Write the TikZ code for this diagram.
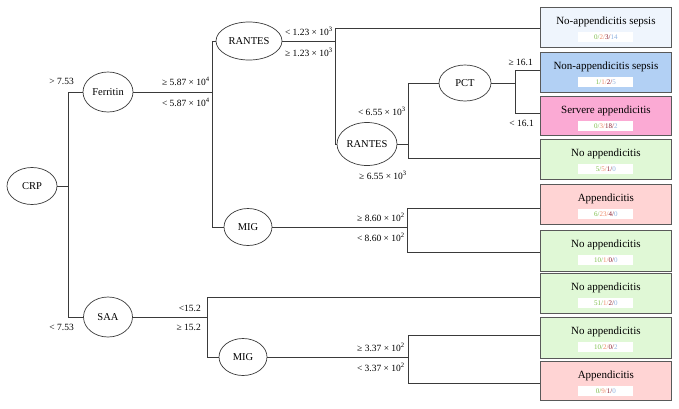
\documentclass[tikz,border=0pt]{standalone}
\usepackage{fontspec}
\setmainfont{Liberation Serif}
\usetikzlibrary{shapes.geometric,calc}
\definecolor{cg}{HTML}{7DBE4A}
\definecolor{co}{HTML}{F08C6A}
\definecolor{cr}{HTML}{8A1C2C}
\definecolor{cb}{HTML}{8FB2E0}
\definecolor{fa}{HTML}{EFF5FD}
\definecolor{fb}{HTML}{B2D0F4}
\definecolor{fp}{HTML}{FBAAD4}
\definecolor{fg}{HTML}{E0F8D6}
\definecolor{fr}{HTML}{FFD4D4}
\definecolor{ln}{HTML}{3A3A3A}
\newcommand{\nums}[4]{\textcolor{cg}{#1/}\textcolor{co}{#2/}\textcolor{cr}{#3/}\textcolor{cb}{#4}}
\tikzset{
  split/.style={ellipse,draw=ln,line width=0.7pt,inner sep=0pt,font=\fontsize{10.5}{12}\selectfont},
  leaf/.style={draw=black!65,line width=0.8pt,minimum width=131pt,inner sep=0pt,anchor=north west},
  ttl/.style={font=\fontsize{11}{12}\selectfont},
  cnt/.style={fill=white,minimum width=55pt,minimum height=10pt,inner sep=0pt,font=\fontsize{7}{8}\selectfont},
  lab/.style={anchor=east,inner sep=0pt,font=\fontsize{9.5}{10}\selectfont},
  conn/.style={draw=ln,line width=0.7pt},
}
\begin{document}
\begin{tikzpicture}[x=1pt,y=-1pt]
\useasboundingbox (0,0) rectangle (679,408);
% split nodes
\node[split,minimum width=50pt,minimum height=37pt] (crp) at (32,186) {CRP};
\node[split,minimum width=50pt,minimum height=40pt] (fer) at (108,92) {Ferritin};
\node[split,minimum width=49pt,minimum height=40pt] (saa) at (108,317) {SAA};
\node[split,minimum width=66pt,minimum height=38pt] (r1) at (249,41) {RANTES};
\node[split,minimum width=60pt,minimum height=43pt] (r2) at (367,144) {RANTES};
\node[split,minimum width=52pt,minimum height=36pt] (pct) at (465,83) {PCT};
\node[split,minimum width=48pt,minimum height=37pt] (m1) at (248,227) {MIG};
\node[split,minimum width=48pt,minimum height=37pt] (m2) at (243,357) {MIG};
% leaves
\newcommand{\leafbox}[6]{%
  \node[leaf,fill=#3,minimum height=#5pt] (#1) at (540,#4) {};
  \node[ttl] at ($(#1.north)+(0,14.5)$) {#2};
  \node[cnt] at ($(#1.north)+(0,30)$) {#6};
}
\leafbox{b1}{No-appendicitis sepsis}{fa}{7}{40}{\nums{0}{2}{3}{14}}
\leafbox{b2}{Non-appendicitis sepsis}{fb}{52}{40}{\nums{1}{1}{2}{5}}
\leafbox{b3}{Servere appendicitis}{fp}{96}{39}{\nums{0}{3}{18}{2}}
\leafbox{b4}{No appendicitis}{fg}{139}{40}{\nums{5}{5}{1}{0}}
\leafbox{b5}{Appendicitis}{fr}{184}{40}{\nums{6}{23}{4}{0}}
\leafbox{b6}{No appendicitis}{fg}{230}{41}{\nums{10}{1}{0}{0}}
\leafbox{b7}{No appendicitis}{fg}{273}{40}{\nums{51}{1}{2}{0}}
\leafbox{b8}{No appendicitis}{fg}{317}{41}{\nums{10}{2}{0}{2}}
\leafbox{b9}{Appendicitis}{fr}{361}{39}{\nums{0}{9}{1}{0}}
% junction coordinates
\coordinate (ja) at (68,92);   \coordinate (jb) at (68,317);
\coordinate (jc) at (212,41);  \coordinate (jd) at (212,227);
\coordinate (je) at (335,28);  \coordinate (jf) at (335,144);
\coordinate (jg) at (408,83);  \coordinate (jh) at (408,158);
\coordinate (ji) at (515,70);  \coordinate (jj) at (515,113);
\coordinate (jk) at (407,208); \coordinate (jl) at (407,252);
\coordinate (jm) at (207,297); \coordinate (jn) at (207,357);
\coordinate (jo) at (408,335); \coordinate (jp) at (408,383);
% connectors
\draw[conn] (crp.east) -- (crp.east -| ja);
\draw[conn] (fer.west) -- (ja) -- (jb) -- (saa.west);
\draw[conn] (fer.east) -- (fer.east -| jc);
\draw[conn] (r1.west) -- (jc) -- (jd) -- (m1.west);
\draw[conn] (r1.east) -- (r1.east -| je);
\draw[conn] (b1.west |- je) -- (je) -- (jf) -- (r2.west);
\draw[conn] (r2.east) -- (r2.east -| jg);
\draw[conn] (pct.west) -- (jg) -- (jh) -- (b4.west |- jh);
\draw[conn] (pct.east) -- (pct.east -| ji);
\draw[conn] (b2.west |- ji) -- (ji) -- (jj) -- (b3.west |- jj);
\draw[conn] (m1.east) -- (m1.east -| jk);
\draw[conn] (b5.west |- jk) -- (jk) -- (jl) -- (b6.west |- jl);
\draw[conn] (saa.east) -- (saa.east -| jm);
\draw[conn] (b7.west |- jm) -- (jm) -- (jn) -- (m2.west);
\draw[conn] (m2.east) -- (m2.east -| jo);
\draw[conn] (b8.west |- jo) -- (jo) -- (jp) -- (b9.west |- jp);
% labels
\node[lab] (l1) at (74,81) {> 7.53};
\node[lab] (l2) at (74,327) {< 7.53};
\node[lab] (l3) at (210,81) {≥ 5.87 × 10\textsuperscript{4}};
\node[lab] (l4) at (210,102) {< 5.87 × 10\textsuperscript{4}};
\node[lab] (l5) at (333,31) {< 1.23 × 10\textsuperscript{3}};
\node[lab] (l6) at (333,52) {≥ 1.23 × 10\textsuperscript{3}};
\node[lab] (l7) at (406,111) {< 6.55 × 10\textsuperscript{3}};
\node[lab] (l8) at (407,175) {≥ 6.55 × 10\textsuperscript{3}};
\node[lab] (l9) at (533,62) {≥ 16.1};
\node[lab] (l10) at (534,123) {< 16.1};
\node[lab] (l11) at (405,217) {≥ 8.60 × 10\textsuperscript{2}};
\node[lab] (l12) at (405,237) {< 8.60 × 10\textsuperscript{2}};
\node[lab] (l13) at (201,308) {<15.2};
\node[lab] (l14) at (201,327) {≥ 15.2};
\node[lab] (l15) at (405,347) {≥ 3.37 × 10\textsuperscript{2}};
\node[lab] (l16) at (405,367) {< 3.37 × 10\textsuperscript{2}};
\end{tikzpicture}
\end{document}
